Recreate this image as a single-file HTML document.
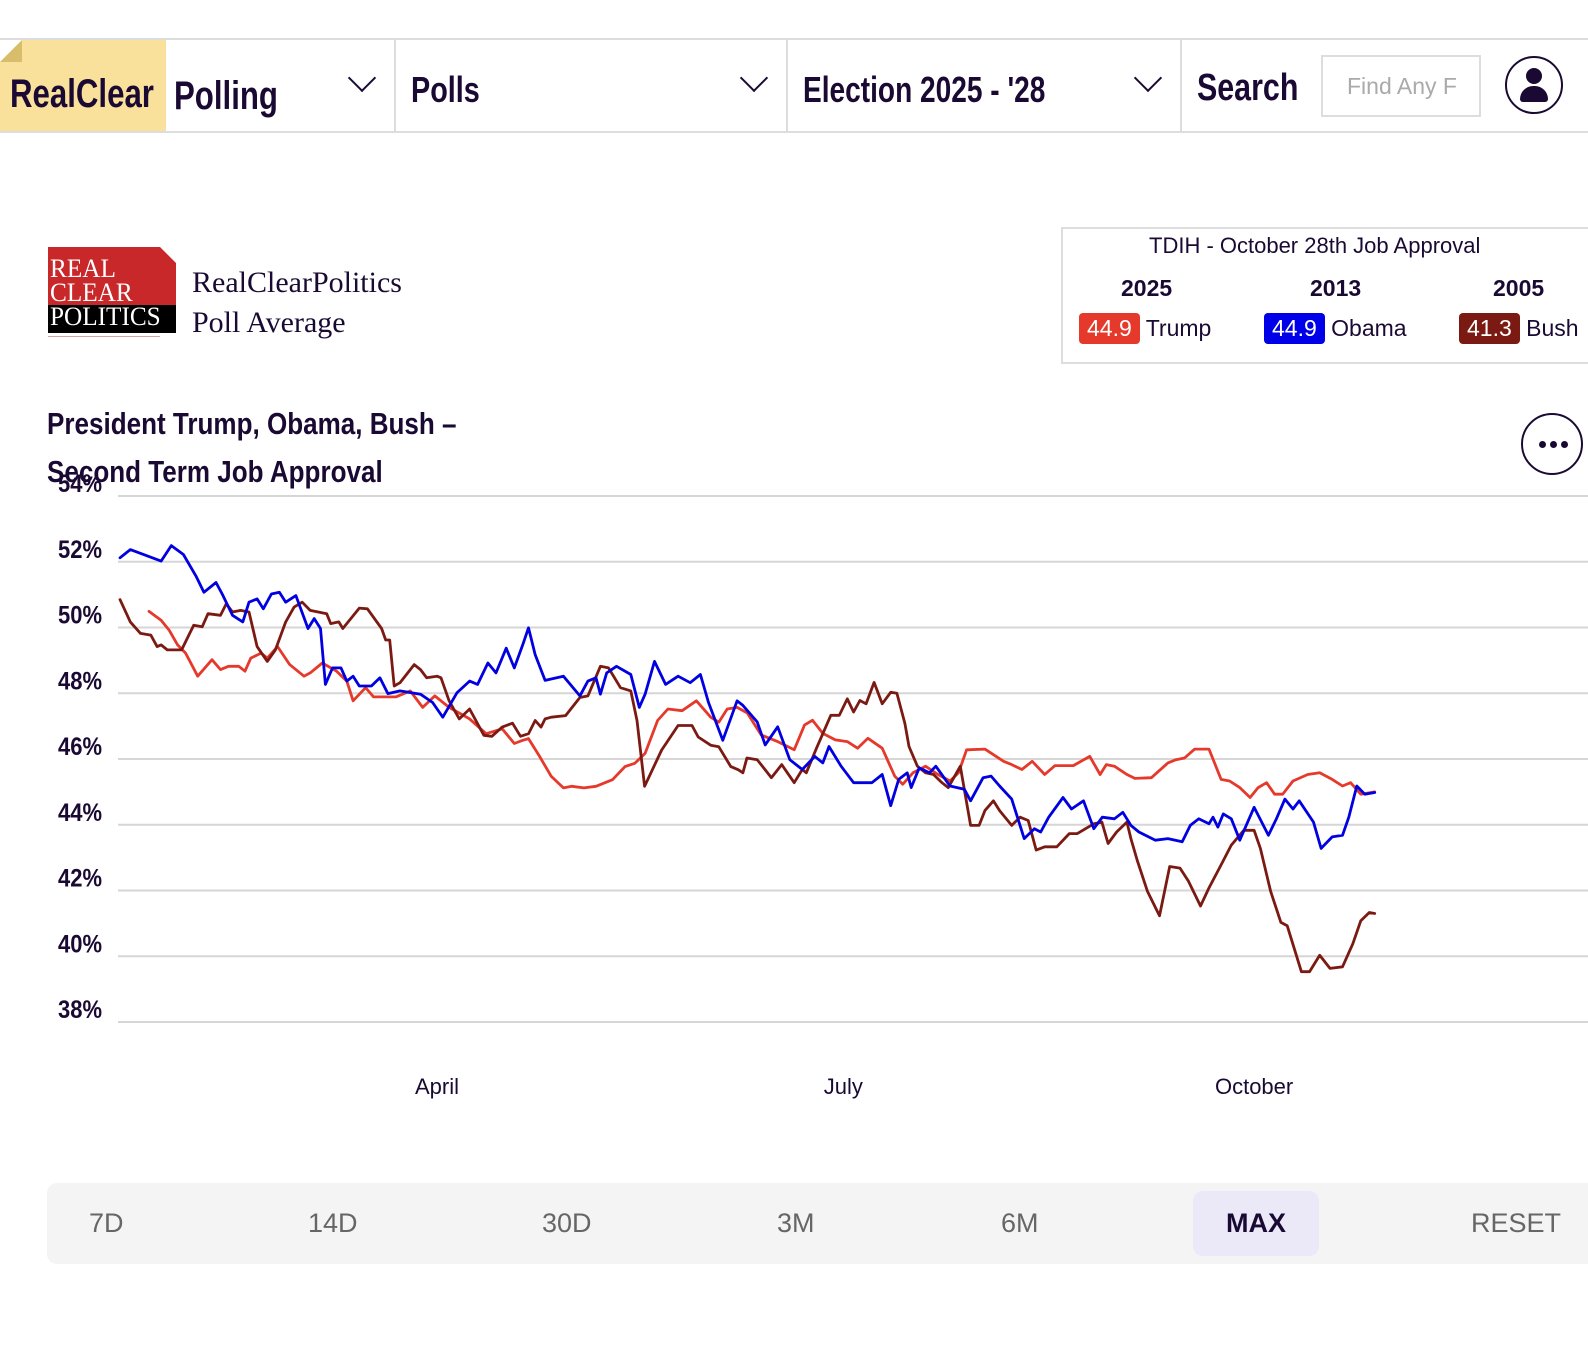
<!DOCTYPE html>
<html><head><meta charset="utf-8">
<style>
html,body{margin:0;padding:0;background:#fff;}
body{width:1588px;height:1359px;position:relative;overflow:hidden;font-family:"Liberation Sans",sans-serif;color:#1a0a33;}
.abs{position:absolute;}
.cond{font-family:"Liberation Sans",sans-serif;font-weight:bold;transform-origin:left top;transform:scaleX(0.8);white-space:nowrap;}
.nav{position:absolute;left:0;top:38px;width:1588px;height:91px;border-top:2px solid #ddd;border-bottom:2px solid #ddd;}
.div{position:absolute;top:0;width:2px;height:91px;background:#ddd;}
.chev{position:absolute;width:18px;height:18px;border-right:2.5px solid #1a0a33;border-bottom:2.5px solid #1a0a33;transform:rotate(45deg);}
.range span{position:absolute;top:1208px;font-size:27px;color:#666;}
</style></head><body>
<div class="nav">
  <div class="abs" style="left:0;top:0;width:166px;height:91px;background:#f9e19b;"></div>
  <div class="abs" style="left:0;top:0;width:0;height:0;border-top:22px solid #fff;border-right:22px solid transparent;"></div>
  <div class="abs" style="left:0;top:0;width:0;height:0;border-bottom:22px solid #d8bd6a;border-left:22px solid transparent;"></div>
  <div class="abs cond" style="left:10px;top:32px;font-size:40px;transform:scaleX(0.78);">RealClear</div>
  <div class="abs cond" style="left:174px;top:34px;font-size:40px;transform:scaleX(0.78);">Polling</div>
  <div class="chev" style="left:352px;top:28px;"></div>
  <div class="div" style="left:394px;"></div>
  <div class="abs cond" style="left:411px;top:29px;font-size:36px;">Polls</div>
  <div class="chev" style="left:744px;top:28px;"></div>
  <div class="div" style="left:786px;"></div>
  <div class="abs cond" style="left:803px;top:29px;font-size:36px;transform:scaleX(0.78);">Election 2025 - '28</div>
  <div class="chev" style="left:1138px;top:28px;"></div>
  <div class="div" style="left:1180px;"></div>
  <div class="abs cond" style="left:1197px;top:27px;font-size:38px;">Search</div>
  <div class="abs" style="left:1321px;top:15px;width:160px;height:62px;border:2px solid #ddd;box-sizing:border-box;font-size:23px;color:#aaa;padding:16px 0 0 24px;white-space:nowrap;overflow:hidden;background:#fff;">Find Any F</div>
  <div class="abs" style="left:1505px;top:16px;width:58px;height:58px;border:2px solid #1a0a33;border-radius:50%;box-sizing:border-box;overflow:hidden;">
    <div class="abs" style="left:19px;top:10px;width:16px;height:16px;background:#1a0a33;border-radius:50%;"></div>
    <div class="abs" style="left:13px;top:28px;width:28px;height:16px;background:#1a0a33;border-radius:14px 14px 3px 3px;"></div>
  </div>
</div>

<div class="abs" style="left:48px;top:247px;width:128px;height:90px;">
  <div class="abs" style="left:0;top:0;width:128px;height:58px;background:#c8282a;"></div>
  <div class="abs" style="left:112px;top:0;width:0;height:0;border-top:16px solid #fff;border-left:16px solid transparent;"></div>
  <div class="abs" style="left:0;top:58px;width:128px;height:28px;background:#000;"></div>
  <div class="abs" style="left:2px;top:10px;font-family:'Liberation Serif',serif;font-size:26px;line-height:24px;color:#fff;transform-origin:left top;transform:scaleX(0.97);">REAL<br>CLEAR<br>POLITICS</div>
  <div class="abs" style="left:0;top:89px;width:112px;height:1px;background:#d9a0a0;"></div>
</div>
<div class="abs" style="left:192px;top:263px;font-family:'Liberation Serif',serif;font-size:30px;line-height:40px;">RealClearPolitics<br>Poll Average</div>

<div class="abs" style="left:1061px;top:227px;width:540px;height:137px;border:2px solid #ddd;box-sizing:border-box;">
  <div class="abs" style="left:86px;top:4px;font-size:22px;white-space:nowrap;">TDIH - October 28th Job Approval</div>
  <div class="abs" style="left:58px;top:46px;font-size:23px;font-weight:bold;">2025</div>
  <div class="abs" style="left:247px;top:46px;font-size:23px;font-weight:bold;">2013</div>
  <div class="abs" style="left:430px;top:46px;font-size:23px;font-weight:bold;">2005</div>
  <div class="abs" style="left:16px;top:84px;white-space:nowrap;font-size:23px;"><span style="display:inline-block;background:#e5392b;color:#fff;border-radius:4px;padding:2px 8px;">44.9</span> Trump</div>
  <div class="abs" style="left:201px;top:84px;white-space:nowrap;font-size:23px;"><span style="display:inline-block;background:#0000e8;color:#fff;border-radius:4px;padding:2px 8px;">44.9</span> Obama</div>
  <div class="abs" style="left:396px;top:84px;white-space:nowrap;font-size:23px;"><span style="display:inline-block;background:#7b1a12;color:#fff;border-radius:4px;padding:2px 8px;">41.3</span> Bush</div>
</div>

<div class="abs cond" style="left:47px;top:400px;font-size:31px;line-height:48px;transform:scaleX(0.84);">President Trump, Obama, Bush –<br>Second Term Job Approval</div>
<div class="abs" style="left:1521px;top:413px;width:62px;height:62px;border:2px solid #1a0a33;border-radius:50%;box-sizing:border-box;">
  <div class="abs" style="left:16px;top:26px;width:7px;height:7px;border-radius:50%;background:#1a0a33;"></div>
  <div class="abs" style="left:27px;top:26px;width:7px;height:7px;border-radius:50%;background:#1a0a33;"></div>
  <div class="abs" style="left:38px;top:26px;width:7px;height:7px;border-radius:50%;background:#1a0a33;"></div>
</div>

<svg id="chart" class="abs" style="left:0;top:0" width="1588" height="1140"></svg>

<div class="abs range" style="left:47px;top:1183px;width:1560px;height:81px;background:#f4f4f4;border-radius:10px;"></div>
<div class="abs" style="left:1193px;top:1191px;width:126px;height:65px;background:#ebe9f7;border-radius:10px;"></div>
<div class="range">
<span style="left:89px;">7D</span>
<span style="left:308px;">14D</span>
<span style="left:542px;">30D</span>
<span style="left:777px;">3M</span>
<span style="left:1001px;">6M</span>
<span style="left:1226px;color:#1a0a33;font-weight:bold;">MAX</span>
<span style="left:1471px;">RESET</span>
</div>

<script>
const yTicks = [54,52,50,48,46,44,42,40,38];
const xTickLabels = ["April","July","October"];
const xTickDays = [71,162,254];
const trumpDays = [6.5,9.2,11,12.9,14.7,17.4,20.6,22.5,24.3,26.6,28,29.3,31.6,33,35.3,38,41.2,42.6,45.3,48.5,50.8,52.2,55,56.8,61.8,65,67.8,70.5,73.7,78.3,82,85.6,88.3,90.2,91.5,93.8,96.6,99.3,101.2,103.9,106.6,110.3,113.1,115.3,117.6,120.4,122.7,125.9,129.1,132.3,134.1,136,138.2,140.5,143.6,147.3,151,153.3,155.1,157.4,160.2,162.9,165.2,167.5,170.7,173.5,175.3,177.6,180.4,183.2,185.9,187.8,189.6,193.7,197.9,199.7,202,204.3,207.1,209.4,213.5,217.2,219.5,220.9,222.7,225.5,227.3,231,234.7,236.5,238.4,240.7,243.9,246.6,248.5,250.8,253.1,254.9,256.8,258.6,260.4,262.7,266,268.7,271.5,273.8,275.6,277.9,281];
const trumpVals = [50.49,50.22,49.92,49.47,49.22,48.52,49.02,48.72,48.82,48.82,48.67,49.07,49.22,49.07,49.42,48.87,48.52,48.62,48.92,48.67,48.37,47.77,48.17,47.89,47.89,48.07,47.57,47.92,47.57,47.22,46.77,46.92,46.47,46.57,46.62,46.12,45.47,45.12,45.17,45.12,45.17,45.37,45.77,45.87,46.17,47.17,47.52,47.47,47.77,47.27,47.12,47.52,47.57,47.4,46.73,46.53,46.28,47.03,47.18,46.78,46.58,46.53,46.33,46.63,46.33,45.48,45.23,45.58,45.78,45.53,45.33,45.58,46.28,46.3,45.93,45.83,45.68,45.93,45.53,45.8,45.8,46.08,45.53,45.83,45.78,45.53,45.41,45.43,45.88,45.98,46.03,46.3,46.3,45.38,45.33,45.13,44.83,45.13,45.28,44.93,44.93,45.33,45.53,45.58,45.38,45.18,45.28,44.93,45.0];
const obamaDays = [0,2.3,9.2,11.5,14.2,17,18.8,21.5,22.9,25.2,27.5,28.9,30.7,32.1,33.9,35.7,37.1,39.4,42.1,43.5,44.9,46,47.6,49.5,50.8,52.2,53.6,56.3,58.2,60,62.7,67.3,70,72.3,75.5,78.3,80.1,82.4,84.2,86.5,88.3,90.2,91.5,93,95.2,99.3,103,104.8,106.6,107.6,109,111.2,114.4,116.3,117.6,119.7,122.2,125,127.7,130,131.8,135,138.2,139.5,142.7,144.5,147.3,150,152.8,155.6,157.4,158.8,161.5,164.3,168.4,170.7,172.6,174.4,176.3,177.2,179,181.3,182.7,185.9,189.1,190.5,193.3,195.1,197,199.7,202.5,204.8,206.2,208,211.2,213.1,215.8,218.1,220,222.7,224.6,226.4,228.2,231.9,234.7,237.9,239.7,241.6,243.9,244.8,245.9,247.1,248.9,250.8,254,257.2,259,260.9,262.7,264.1,267.3,269,271.5,273.8,275.2,277,278.8,281];
const obamaVals = [52.12,52.37,52.02,52.49,52.22,51.57,51.07,51.37,51.02,50.37,50.17,50.77,50.87,50.57,51.02,51.07,50.77,50.97,49.97,50.27,49.97,48.27,48.77,48.77,48.37,48.52,48.22,48.22,48.47,47.99,48.07,47.97,47.72,47.27,48.02,48.37,48.27,48.92,48.62,49.37,48.77,49.47,49.99,49.17,48.39,48.52,47.92,48.37,48.47,47.97,48.62,48.82,48.57,47.57,47.97,48.97,48.27,48.52,48.32,48.57,47.72,46.57,47.77,47.63,47.13,46.43,46.98,45.98,45.68,46.08,45.88,46.38,45.78,45.28,45.28,45.53,44.58,45.38,45.58,45.13,45.73,45.58,45.78,45.18,45.08,44.73,45.43,45.48,45.18,44.78,43.58,43.88,43.78,44.23,44.83,44.48,44.73,43.88,44.23,44.18,44.38,43.98,43.78,43.53,43.58,43.48,43.98,44.18,44.03,44.23,43.93,44.33,44.18,43.53,44.53,43.68,44.18,44.78,44.48,44.73,44.08,43.28,43.63,43.68,44.23,45.18,44.93,44.98,44.9];
const bushDays = [0,2.3,4.6,6.9,8.3,9.2,10.6,13.8,16.5,18.4,19.7,22.5,23.8,25.2,27,28.9,30.7,33,34.8,37.1,39,40.8,42.6,44.4,46.3,47.2,49,49.9,53.6,55.4,58.6,59.5,60.4,61.4,62.7,65.9,67.3,68.7,71,71.9,73.7,76,78.3,81.5,83.3,85.6,87.9,89.7,91.5,93,94.3,95.2,96.6,99.8,103,104.8,107.6,109.4,112.1,114.4,115.8,117.5,121.3,125,128.1,129.5,132.3,134.1,136.8,138.5,139.5,140.4,142.7,145.9,148.2,151,152.8,153.7,156,159.2,161.1,162.9,164.3,165.7,167.1,168.9,170.7,172.6,174,175.8,176.7,178.6,180.4,182.2,184.1,185.5,188.2,190.5,192.4,193.7,195.6,197,199.7,201.6,203.4,205.2,207.1,209.8,212.6,214.4,218.1,219.9,221.3,223.2,225.5,226.4,227.8,230.1,232.8,235.1,237.4,239.3,242,243.9,246.6,248.9,251.7,254,255.4,257.7,260,261.4,264.6,266.4,268.7,271,273.8,276.1,277.9,279.8,281];
const bushVals = [50.85,50.17,49.82,49.77,49.42,49.47,49.32,49.32,50.07,50.02,50.42,50.37,50.72,50.47,50.52,50.47,49.42,48.97,49.32,50.17,50.62,50.77,50.52,50.47,50.42,50.12,50.17,49.97,50.59,50.57,49.97,49.62,49.62,48.22,48.32,48.87,48.72,48.47,48.52,48.47,47.77,47.22,47.52,46.72,46.69,46.97,47.09,46.69,46.77,47.17,46.97,47.22,47.27,47.32,47.87,47.92,48.82,48.77,48.17,48.07,47.17,45.17,46.27,47.02,47.02,46.67,46.42,46.37,45.77,45.67,45.58,46.03,45.98,45.43,45.83,45.28,45.68,45.58,46.33,47.33,47.33,47.83,47.43,47.78,47.68,48.33,47.68,48.03,48.0,47.08,46.38,45.78,45.58,45.53,45.28,45.13,45.78,43.98,43.98,44.43,44.73,44.43,43.98,44.23,44.13,43.23,43.33,43.33,43.73,43.73,44.03,44.08,43.43,43.78,44.08,43.58,42.93,41.98,41.23,42.73,42.68,42.28,41.53,42.08,42.78,43.38,43.83,43.83,43.28,41.98,41.03,40.93,39.53,39.53,40.03,39.63,39.68,40.38,41.08,41.33,41.3];

const svg = document.getElementById('chart');
const NS = 'http://www.w3.org/2000/svg';
const X0=120, PXDAY=4.465, Y0=496, YTOP=54, PXPCT=32.875;
function xScale(d){return X0 + d*PXDAY;}
function yScale(v){return Y0 + (YTOP - v)*PXPCT;}
function mk(tag, attrs){const e=document.createElementNS(NS,tag);for(const k in attrs)e.setAttribute(k,attrs[k]);svg.appendChild(e);return e;}

yTicks.forEach(function(t){
  const y=yScale(t);
  const g=mk('line',{x1:118,x2:1588,y1:y,y2:y,stroke:'#d6d6d6','stroke-width':2});
  
  
  const lb=mk('text',{x:0,y:0,'text-anchor':'end','font-family':'Liberation Sans, sans-serif','font-weight':'bold','font-size':25,fill:'#1a0a33',transform:'translate(102,'+(y-4)+') scale(0.88,1)'});
  lb.textContent=t+'%';
  
  
});
xTickLabels.forEach(function(l,i){
  const t=mk('text',{x:xScale(xTickDays[i]),y:1094,'text-anchor':'middle','font-family':'Liberation Sans, sans-serif','font-size':22,fill:'#1a0a33'});
  t.textContent=l;
  
  
});
function drawLine(days, vals, color, name){
  let d='';
  for(let i=0;i<days.length;i++){d+=(i?'L':'M')+xScale(days[i]).toFixed(1)+','+yScale(vals[i]).toFixed(1);}
  const p=mk('path',{d:d,fill:'none',stroke:color,'stroke-width':2.8,'stroke-linejoin':'round','stroke-linecap':'round'});
  
  
}
drawLine(trumpDays,trumpVals,'#e5392b','trump-line');
drawLine(bushDays,bushVals,'#7b1a12','bush-line');
drawLine(obamaDays,obamaVals,'#0000e0','obama-line');
</script>
</body></html>
